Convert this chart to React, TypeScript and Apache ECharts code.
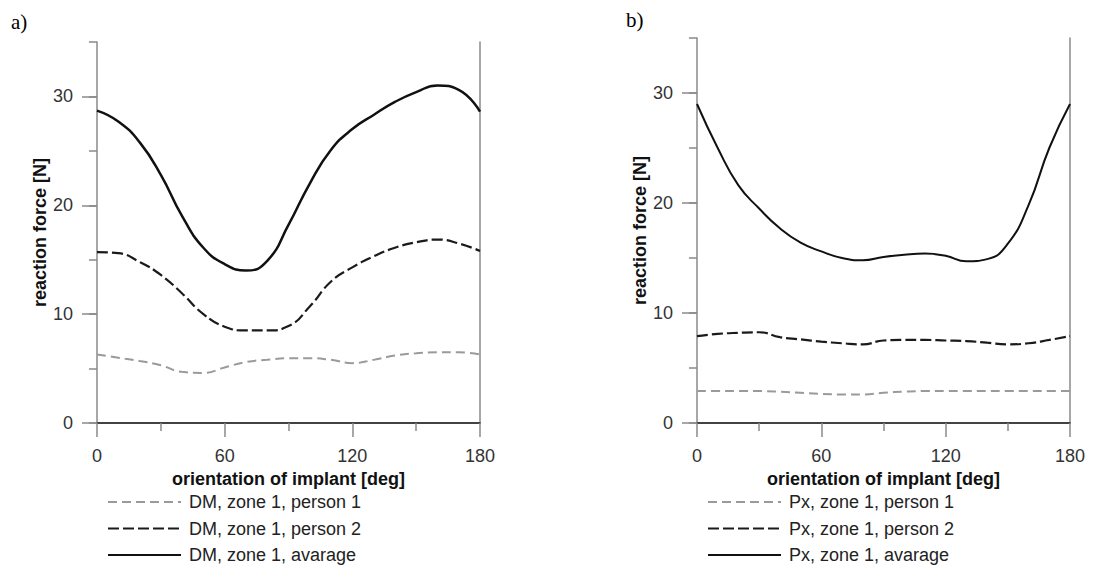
import React, { useEffect, useRef } from "react";
import * as echarts from "echarts";

const angles = [0, 10, 20, 30, 40, 50, 60, 70, 80, 90, 100, 110, 120, 130, 140, 150, 160, 170, 180];

const dmPerson1 = [6.3, 6.0, 5.7, 5.3, 4.7, 4.6, 5.1, 5.6, 5.8, 5.95, 5.95, 5.8, 5.5, 5.8, 6.2, 6.4, 6.5, 6.5, 6.3];
const dmPerson2 = [15.7, 15.6, 14.8, 13.6, 11.9, 10.0, 8.85, 8.5, 8.5, 8.9, 10.7, 13.0, 14.3, 15.3, 16.1, 16.6, 16.85, 16.5, 15.8];
const dmAverage = [28.7, 27.7, 25.8, 22.8, 19.0, 16.1, 14.6, 14.0, 14.9, 18.2, 22.0, 25.1, 27.0, 28.3, 29.5, 30.4, 31.0, 30.6, 28.6];

const pxPerson1 = [2.9, 2.9, 2.9, 2.9, 2.85, 2.75, 2.65, 2.6, 2.6, 2.75, 2.85, 2.9, 2.9, 2.9, 2.9, 2.9, 2.9, 2.9, 2.9];
const pxPerson2 = [7.9, 8.1, 8.2, 8.25, 7.8, 7.6, 7.4, 7.25, 7.15, 7.5, 7.55, 7.55, 7.5, 7.45, 7.3, 7.15, 7.25, 7.55, 7.9];
const pxAverage = [29.0, 25.0, 21.6, 19.5, 17.7, 16.4, 15.6, 15.0, 14.8, 15.1, 15.3, 15.4, 15.2, 14.7, 14.9, 16.3, 19.8, 25.0, 29.0];

const xTicks = [0, 60, 120, 180];
const yTicks = [0, 10, 20, 30];

const namesA = ["DM, zone 1, person 1", "DM, zone 1, person 2", "DM, zone 1, avarage"];
const namesB = ["Px, zone 1, person 1", "Px, zone 1, person 2", "Px, zone 1, avarage"];
const panelLabels = ["a)", "b)"];
const xName = "orientation of implant [deg]";
const yName = "reaction force [N]";

const FONT = "'Liberation Sans', Arial, sans-serif";
const AXIS_GRAY = "#8a8a8a";

const pairs = (vals: number[]) => angles.map((a, i) => [a, vals[i]]);

export default function App() {
  const ref = useRef<HTMLDivElement>(null);

  useEffect(() => {
    if (!ref.current) return;
    const chart = echarts.init(ref.current, undefined, { renderer: "svg" });

    const grids = [
      { left: 97, top: 42, width: 383, height: 381 },
      { left: 697, top: 38, width: 373, height: 385 },
    ];

    const xAxes: any[] = [];
    const yAxes: any[] = [];
    grids.forEach((_, gi) => {
      xAxes.push({
        gridIndex: gi,
        type: "value",
        min: 0,
        max: 180,
        interval: 60,
        position: "bottom",
        axisLine: { show: true, lineStyle: { color: AXIS_GRAY, width: 1.5 } },
        axisTick: { show: true, length: 14, lineStyle: { color: AXIS_GRAY, width: 1.5 } },
        minorTick: { show: true, splitNumber: 2, length: 8, lineStyle: { color: AXIS_GRAY, width: 1.5 } },
        splitLine: { show: false },
        axisLabel: {
          margin: 24,
          fontSize: 18,
          color: "#333",
          fontFamily: FONT,
          customValues: xTicks,
        },
        name: xName,
        nameLocation: "middle",
        nameGap: 44,
        nameTextStyle: { fontSize: 18, fontWeight: "bold", color: "#111", fontFamily: FONT },
      });
      xAxes.push({
        gridIndex: gi,
        type: "value",
        min: 0,
        max: 180,
        position: "top",
        axisLine: { show: true, lineStyle: { color: "#222", width: 1.5 } },
        axisTick: { show: false },
        axisLabel: { show: false },
        splitLine: { show: false },
      });
      yAxes.push({
        gridIndex: gi,
        type: "value",
        min: 0,
        max: 35,
        interval: 10,
        position: "left",
        axisLine: { show: true, lineStyle: { color: AXIS_GRAY, width: 1.5 } },
        axisTick: { show: true, length: 15, customValues: yTicks, lineStyle: { color: AXIS_GRAY, width: 1.5 } },
        splitLine: { show: false },
        axisLabel: {
          margin: 24,
          fontSize: 18,
          color: "#333",
          fontFamily: FONT,
          customValues: yTicks,
        },
        name: yName,
        nameLocation: "middle",
        nameGap: 48,
        nameRotate: 90,
        nameTextStyle: { fontSize: 18, fontWeight: "bold", color: "#111", fontFamily: FONT },
      });
      yAxes.push({
        gridIndex: gi,
        type: "value",
        min: 0,
        max: 35,
        interval: 5,
        position: "left",
        axisLine: { show: false },
        axisTick: { show: true, length: 8, lineStyle: { color: AXIS_GRAY, width: 1.5 } },
        axisLabel: { show: false },
        splitLine: { show: false },
      });
      yAxes.push({
        gridIndex: gi,
        type: "value",
        min: 0,
        max: 35,
        position: "right",
        axisLine: { show: true, lineStyle: { color: AXIS_GRAY, width: 1.5 } },
        axisTick: { show: false },
        axisLabel: { show: false },
        splitLine: { show: false },
      });
    });

    const styles = [
      { color: "#9a9a9a", width: 2, type: [9, 5] },
      { color: "#1a1a1a", width: 2.2, type: [11, 4] },
      { color: "#111111", width: 2.5, type: "solid" },
    ];

    const mk = (name: string, vals: number[], gi: number, si: number) => ({
      type: "line",
      name,
      xAxisIndex: gi * 2,
      yAxisIndex: gi * 3,
      data: pairs(vals),
      smooth: 0.5,
      showSymbol: false,
      symbol: "none",
      lineStyle: { ...styles[si], width: gi === 1 && si === 2 ? 2 : styles[si].width },
      itemStyle: { color: styles[si].color },
      z: 3 - si,
    });

    const series = [
      mk(namesA[0], dmPerson1, 0, 0),
      mk(namesA[1], dmPerson2, 0, 1),
      mk(namesA[2], dmAverage, 0, 2),
      mk(namesB[0], pxPerson1, 1, 0),
      mk(namesB[1], pxPerson2, 1, 1),
      mk(namesB[2], pxAverage, 1, 2),
    ];

    const legendBase = {
      orient: "vertical",
      top: 493,
      height: 72,
      padding: 0,
      itemWidth: 73,
      itemHeight: 14,
      itemGap: 8.5,
      itemStyle: { opacity: 0 },
      textStyle: { fontSize: 18, lineHeight: 17, color: "#222", fontFamily: FONT, padding: [0, 0, 0, 3] },
      selectedMode: false,
    };

    chart.setOption({
      animation: false,
      backgroundColor: "#ffffff",
      grid: grids.map((g) => ({ ...g, containLabel: false })),
      xAxis: xAxes,
      yAxis: yAxes,
      legend: [
        { ...legendBase, left: 107, data: namesA },
        { ...legendBase, left: 707, data: namesB },
      ],
      series,
      graphic: [
        {
          type: "text",
          left: 11,
          top: 11,
          style: { text: panelLabels[0], fontSize: 21, fontFamily: "'Liberation Serif', 'Times New Roman', serif", fill: "#000" },
        },
        {
          type: "text",
          left: 626,
          top: 9,
          style: { text: panelLabels[1], fontSize: 21, fontFamily: "'Liberation Serif', 'Times New Roman', serif", fill: "#000" },
        },
      ],
    });

    return () => chart.dispose();
  }, []);

  return (
    <div
      ref={ref}
      style={{ position: "absolute", left: 0, top: 0, width: 1101, height: 565, background: "#fff" }}
    />
  );
}
